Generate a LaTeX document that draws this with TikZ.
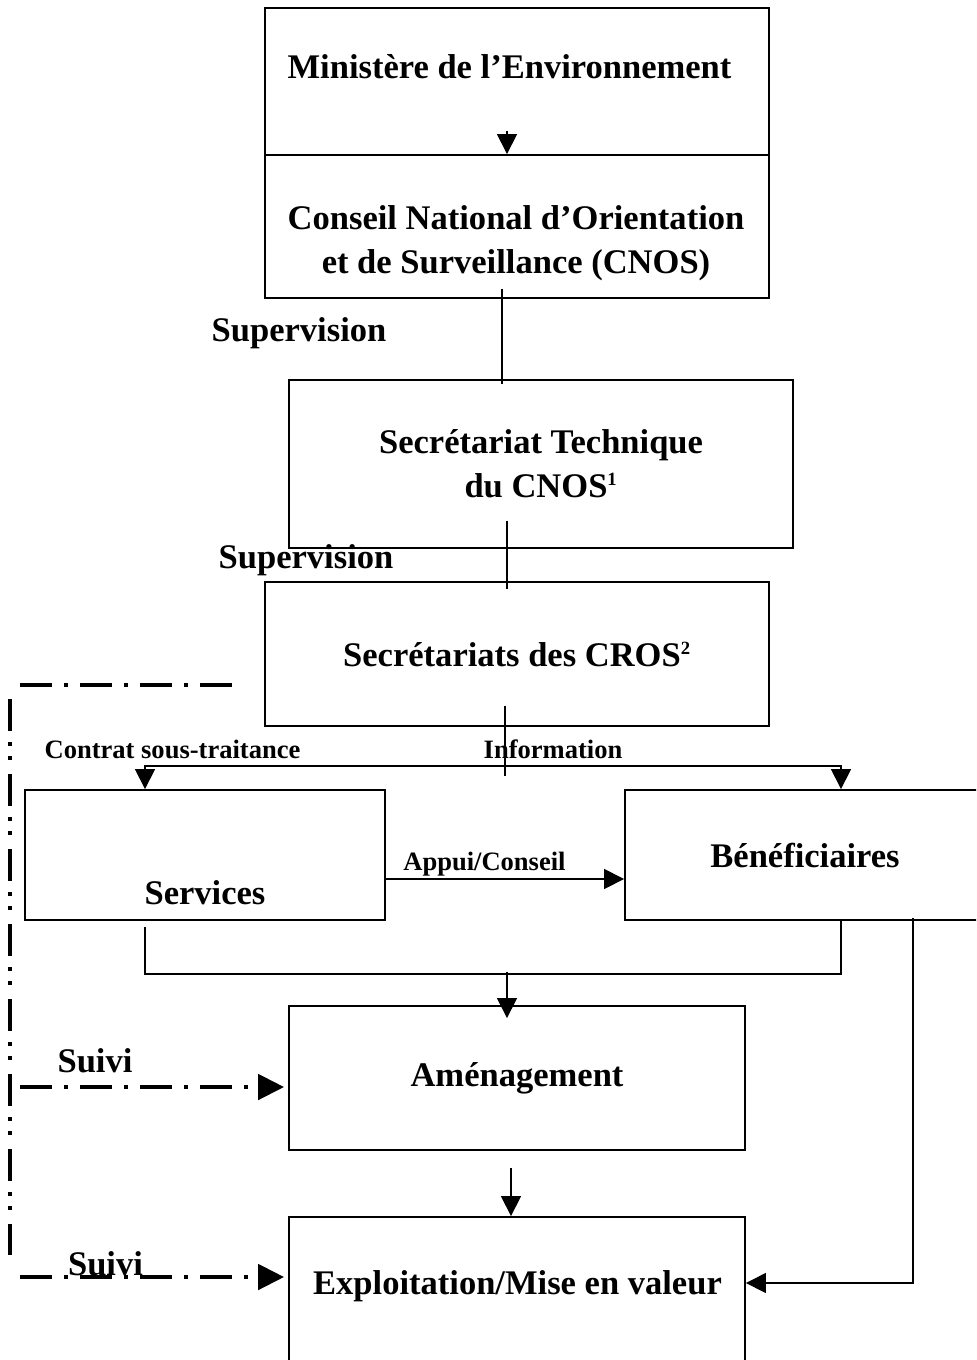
\documentclass[tikz,border=0pt]{standalone}
\usepackage{fontspec}
\setmainfont{Liberation Serif}
\usetikzlibrary{arrows.meta,positioning,calc}
\newcommand\boxfont{\fontsize{25.9}{33}\selectfont\bfseries}
\newcommand\tagfont{\fontsize{19.9}{24}\selectfont\bfseries}
\newcommand\note[1]{\textsuperscript{\fontsize{14}{14}\selectfont #1}}
\tikzset{>={Triangle[length=15pt,width=15pt]}}

\begin{document}
\begin{tikzpicture}[x=0.75pt,y=-0.75pt,
   box/.style={draw,line width=1.4pt,inner sep=0,align=center,font=\boxfont},
   big/.style={font=\boxfont,inner sep=0,anchor=base,align=center},
   lbl/.style={font=\tagfont,inner sep=0,anchor=base},
   ln/.style={line width=1.1pt},
   arr/.style={->,line width=1.1pt},
   track/.style={line width=3pt,dash pattern=on 24pt off 9pt on 3pt off 9pt},
   trackv/.style={line width=3pt,dash pattern=on 24pt off 8.25pt on 3pt off 7.5pt on 3pt off 10.5pt},
   suivi/.style={track,-{Triangle[length=19.5pt,width=19pt]},shorten >=3pt}]
  \useasboundingbox (0,0) rectangle (976,1360);
  \clip (0,0) rectangle (976,1360);
  % boxes
  \node[box,minimum width=378pt,minimum height=110.25pt] (min) at (517,81.5) {};
  \node[big] (mint) at (509.5,78.5) {Ministère de l’Environnement};
  \node[box,minimum width=378pt,minimum height=107.25pt] (cnos) at (517,226.5) {};
  \node[big,anchor=center] (cnost) at (516,243) {Conseil National d’Orientation\\et de Surveillance (CNOS)};
  \node[box,minimum width=378pt,minimum height=126pt] (st) at (541,464) {Secrétariat Technique\\du CNOS\note{1}};
  \node[box,minimum width=378pt,minimum height=108pt] (cros) at (517,654) {Secrétariats des CROS\note{2}};
  \node[box,minimum width=270pt,minimum height=97.5pt] (svc) at (205,855) {};
  \node[big] (svct) at (205,904.5) {Services};
  \node[box,minimum width=270pt,minimum height=97.5pt] (ben) at (805,855) {Bénéficiaires};
  \node[box,minimum width=342pt,minimum height=108pt] (amen) at (517,1078) {Aménagement};
  \node[box,minimum width=342pt,minimum height=114.75pt] (exp) at (517,1293.5) {};
  \node[big] (expt) at (517.5,1294) {Exploitation/Mise en valeur};
  % labels
  \node[big] (sup1) at (299,341.5) {Supervision};
  \node[big] (sup2) at (306,568.5) {Supervision};
  \node[lbl] (ctr) at (172.5,758) {Contrat sous-traitance};
  \node[lbl] (inf) at (553,758) {Information};
  \node[lbl] (app) at (484.5,870) {Appui/Conseil};
  % connectors
  \draw[arr] ($(min.south)+(-10,-25)$) -- ($(cnos.north)+(-10,0)$);
  \draw[ln] ($(cnos.south)+(-15,-10)$) -- ($(st.north)+(-39,5)$);
  \draw[ln] ($(st.south)+(-34,-28)$) -- ($(cros.north)+(-10,8)$);
  \coordinate (split) at (505,766);
  \draw[ln] ($(cros.south)+(-12,-21)$) -- ($(split)+(0,10)$);
  \draw[arr] (split) -| ($(svc.north)+(-60,0)$);
  \draw[arr] (split) -| ($(ben.north)+(36,0)$);
  \draw[arr] ($(svc.east)+(0,24)$) -- ($(ben.west)+(0,24)$);
  \draw[ln] ($(svc.south)+(-60,6)$) |- ($(ben.south)+(36,53)$) -- ($(ben.south)+(36,0)$);
  \coordinate (join) at (507,972);
  \draw[arr] (join) -- ($(amen.north)+(-10,13)$);
  \draw[arr] ($(amen.south)+(-6,17)$) -- ($(exp.north)+(-6,0)$);
  \draw[arr] ($(ben.south)+(108,-3)$) |- ($(exp.east)+(0,-10.5)$);
  % follow-up lines
  \draw[track] (20,685) -- (232,685);
  \draw[trackv] (10,699) -- (10,1255);
  \coordinate (s1) at (20,1087);
  \coordinate (s2) at (20,1277);
  \draw[suivi] (s1) -- (s1 -| amen.west);
  \draw[suivi] (s2) -- (s2 -| exp.west);
  \node[big] (sv1) at (95,1072) {Suivi};
  \node[big] (sv2) at (105.5,1275) {Suivi};
\end{tikzpicture}
\end{document}
